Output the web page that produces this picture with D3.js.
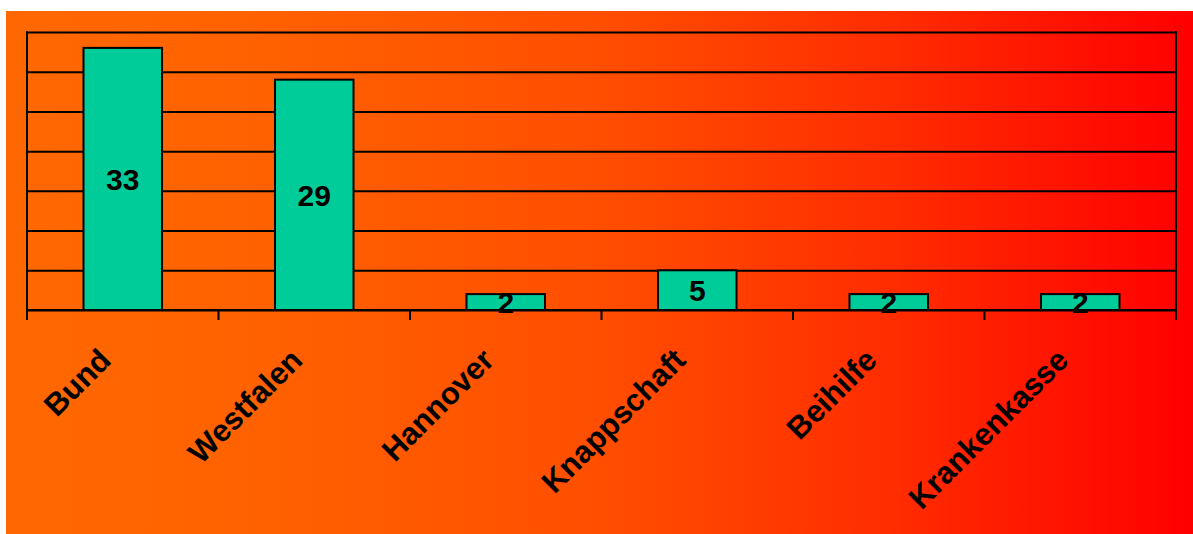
<!DOCTYPE html>
<html>
<head>
<meta charset="utf-8">
<script src="https://cdn.jsdelivr.net/npm/d3@7"></script>
<style>
  html, body { margin: 0; padding: 0; background: #ffffff; }
  svg { display: block; }
  text { font-family: "Liberation Sans", Arial, sans-serif; font-weight: bold; fill: #000; }
</style>
</head>
<body>
<svg id="chart" width="1193" height="534"></svg>
<script>
// Count per insurer
const categories = ["Bund", "Westfalen", "Hannover", "Knappschaft", "Beihilfe", "Krankenkasse"];
const values = [33, 29, 2, 5, 2, 2];
const yTicks = [0, 5, 10, 15, 20, 25, 30, 35];

const svg = d3.select("#chart");

// Background panel with horizontal orange-to-red gradient
const defs = svg.append("defs");
const grad = defs.append("linearGradient")
  .attr("id", "bg")
  .attr("x1", "0%").attr("x2", "100%").attr("y1", "0%").attr("y2", "0%");
[
  ["0%", "rgb(255,104,0)"],
  ["20%", "rgb(255,98,0)"],
  ["50%", "rgb(255,78,0)"],
  ["75%", "rgb(255,44,0)"],
  ["100%", "rgb(255,0,0)"]
].forEach(([o, c]) => grad.append("stop").attr("offset", o).attr("stop-color", c));

svg.append("rect")
  .attr("x", 6).attr("y", 11)
  .attr("width", 1187).attr("height", 523)
  .attr("fill", "url(#bg)");

// Plot area
const plot = { left: 27, right: 1176, top: 32, bottom: 310 };

const x = d3.scaleBand()
  .domain(categories)
  .range([plot.left, plot.right])
  .paddingInner(0.59)
  .paddingOuter(0.295);

const y = d3.scaleLinear()
  .domain([0, 35])
  .range([plot.bottom, plot.top]);

const xOuter = d3.scaleBand()
  .domain(categories)
  .range([plot.left, plot.right]);

// Horizontal gridlines
const grid = svg.append("g")
  .attr("transform", `translate(${plot.left},0)`)
  .call(d3.axisLeft(y).tickValues(yTicks).tickSize(-(plot.right - plot.left)).tickFormat(""));
grid.select(".domain").remove();
grid.selectAll(".tick line").attr("stroke", "#000").attr("stroke-width", 2);

// Left axis line and right border
svg.append("line")
  .attr("x1", plot.left).attr("x2", plot.left)
  .attr("y1", plot.top - 1).attr("y2", plot.bottom + 10)
  .attr("stroke", "#000").attr("stroke-width", 2);
svg.append("line")
  .attr("x1", plot.right).attr("x2", plot.right)
  .attr("y1", plot.top - 1).attr("y2", plot.bottom + 10)
  .attr("stroke", "#000").attr("stroke-width", 2);

// Category tick marks at band boundaries
const boundaries = categories.slice(1).map(c => xOuter(c));
svg.append("g").selectAll("line")
  .data(boundaries)
  .join("line")
  .attr("x1", d => d).attr("x2", d => d)
  .attr("y1", plot.bottom).attr("y2", plot.bottom + 10)
  .attr("stroke", "#000").attr("stroke-width", 2);

// Bars
svg.append("g").selectAll("rect")
  .data(categories)
  .join("rect")
  .attr("x", d => x(d))
  .attr("y", (d, i) => y(values[i]))
  .attr("width", x.bandwidth())
  .attr("height", (d, i) => y(0) - y(values[i]))
  .attr("fill", "#00CC99")
  .attr("stroke", "#000")
  .attr("stroke-width", 2);

// Baseline drawn on top of bars
svg.append("line")
  .attr("x1", plot.left).attr("x2", plot.right)
  .attr("y1", plot.bottom).attr("y2", plot.bottom)
  .attr("stroke", "#000").attr("stroke-width", 2);

// Value labels centred in bars
svg.append("g").selectAll("text")
  .data(categories)
  .join("text")
  .attr("x", d => x(d) + x.bandwidth() / 2)
  .attr("y", (d, i) => (y(values[i]) + y(0)) / 2)
  .attr("dy", "0.36em")
  .attr("text-anchor", "middle")
  .style("font-size", "30px")
  .text((d, i) => values[i]);

// Rotated category labels
svg.append("g").selectAll("text")
  .data(categories)
  .join("text")
  .attr("text-anchor", "end")
  .attr("transform", d => `translate(${x(d) + x.bandwidth() / 2 - 10},${plot.bottom + 52}) rotate(-45)`)
  .style("font-size", "31px")
  .text(d => d);
</script>
</body>
</html>
